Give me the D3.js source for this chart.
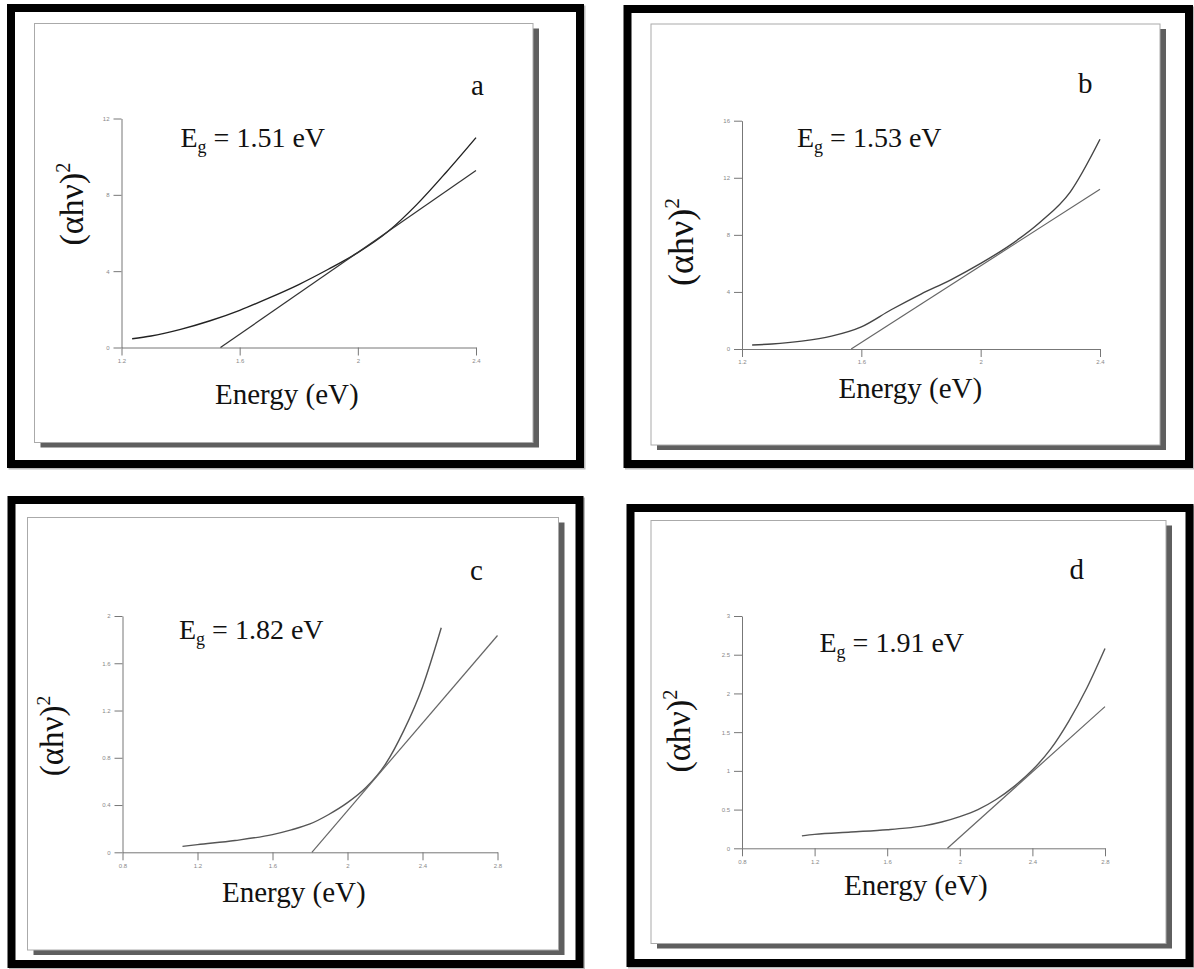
<!DOCTYPE html>
<html lang="en">
<head>
<meta charset="UTF-8">
<title>Tauc plots</title>
<script src="https://d3js.org/d3.v7.min.js"></script>
<style>
  body { margin: 0; background: #fff; }
  svg { display: block; }
  .lbl { font-family: 'Liberation Serif', 'DejaVu Serif', 'Times New Roman', serif; fill: #111; }
  .tick text { font-family: 'Liberation Sans', Arial, sans-serif; font-size: 6px; fill: #888; }
  .tick line, .domain { stroke: #777; }
</style>
</head>
<body>
<svg width="1194" height="969"></svg>
<script>
// ---- data ----
const aEnergy = [1.236, 1.3, 1.4, 1.5, 1.6, 1.7, 1.8, 1.9, 2.0, 2.1, 2.2, 2.3, 2.4];
const aAbs    = [0.46, 0.6, 0.95, 1.4, 1.95, 2.6, 3.3, 4.1, 4.97, 6.05, 7.5, 9.2, 11.0];
const aFitE = [1.535, 2.4], aFitV = [0, 9.27];
const aXTicks = [1.2, 1.6, 2, 2.4], aYTicks = [0, 4, 8, 12];

const bEnergy = [1.234, 1.3, 1.4, 1.5, 1.6, 1.7, 1.8, 1.9, 2.0, 2.1, 2.2, 2.3, 2.4];
const bAbs    = [0.28, 0.35, 0.55, 0.9, 1.55, 2.75, 3.85, 4.85, 6.0, 7.3, 8.9, 11.0, 14.7];
const bFitE = [1.566, 2.4], bFitV = [0, 11.2];
const bXTicks = [1.2, 1.6, 2, 2.4], bYTicks = [0, 4, 8, 12, 16];

const cEnergy = [1.12, 1.2, 1.4, 1.6, 1.7, 1.8, 1.9, 2.0, 2.1, 2.2, 2.3, 2.4, 2.5];
const cAbs    = [0.05, 0.065, 0.1, 0.15, 0.19, 0.24, 0.32, 0.42, 0.55, 0.74, 1.03, 1.4, 1.9];
const cFitE = [1.81, 2.8], cFitV = [0, 1.835];
const cXTicks = [0.8, 1.2, 1.6, 2, 2.4, 2.8], cYTicks = [0, 0.4, 0.8, 1.2, 1.6, 2];

const dEnergy = [1.13, 1.2, 1.4, 1.6, 1.7, 1.8, 1.9, 2.0, 2.1, 2.2, 2.3, 2.4, 2.5, 2.6, 2.7, 2.8];
const dAbs    = [0.16, 0.18, 0.21, 0.24, 0.26, 0.29, 0.34, 0.41, 0.5, 0.63, 0.8, 1.01, 1.28, 1.64, 2.07, 2.58];
const dFitE = [1.932, 2.8], dFitV = [0, 1.83];
const dXTicks = [0.8, 1.2, 1.6, 2, 2.4, 2.8], dYTicks = [0, 0.5, 1, 1.5, 2, 2.5, 3];

const letters = ["a", "b", "c", "d"];
const gaps = ["1.51", "1.53", "1.82", "1.91"];

// ---- layout of each panel (pixel positions) ----
const panels = [
  { E: aEnergy, V: aAbs, fE: aFitE, fV: aFitV, xt: aXTicks, yt: aYTicks,
    frame: [7, 4, 577, 464], box: [34.5, 23.5, 498.5, 419],
    px: [121.5, 476], py: [347.5, 118.5],
    letter: [471, 95], eg: [180.5, 147], en: [215, 404], yl: [83, 204, 34],
    curveColor: "#222", fitColor: "#333" },
  { E: bEnergy, V: bAbs, fE: bFitE, fV: bFitV, xt: bXTicks, yt: bYTicks,
    frame: [623.5, 5, 569.5, 463], box: [651, 24, 509, 421],
    px: [742, 1100], py: [349, 120.7],
    letter: [1078, 93], eg: [797, 147], en: [838.5, 398], yl: [693, 242, 36],
    curveColor: "#444", fitColor: "#666" },
  { E: cEnergy, V: cAbs, fE: cFitE, fV: cFitV, xt: cXTicks, yt: cYTicks,
    frame: [7.5, 496, 576, 472], box: [27.5, 517.5, 531, 432.5],
    px: [122.5, 497.5], py: [852.3, 616],
    letter: [470, 580], eg: [179, 639], en: [222, 901.5], yl: [63, 736, 33],
    curveColor: "#555", fitColor: "#666" },
  { E: dEnergy, V: dAbs, fE: dFitE, fV: dFitV, xt: dXTicks, yt: dYTicks,
    frame: [626.5, 504, 567, 463], box: [651, 520.5, 515, 423],
    px: [742, 1105], py: [848.3, 616],
    letter: [1069.5, 579], eg: [819.5, 651.5], en: [844, 895], yl: [690, 731, 34],
    curveColor: "#555", fitColor: "#666" }
];

const svg = d3.select("svg");

panels.forEach((p, i) => {
  const g = svg.append("g");
  const [fx, fy, fw, fh] = p.frame;
  const bw = 8;

  // thick black frame with a soft edge
  g.append("rect")
    .attr("x", fx + bw / 2 + 1.5).attr("y", fy + bw / 2 + 1.5)
    .attr("width", fw - bw).attr("height", fh - bw)
    .attr("fill", "none").attr("stroke", "#bbb").attr("stroke-width", bw);
  g.append("rect")
    .attr("x", fx + bw / 2).attr("y", fy + bw / 2)
    .attr("width", fw - bw).attr("height", fh - bw)
    .attr("fill", "#fff").attr("stroke", "#000").attr("stroke-width", bw);

  // inner box with dark drop shadow
  const [bx, by, bW, bH] = p.box;
  g.append("rect").attr("x", bx + 6).attr("y", by + 5)
    .attr("width", bW).attr("height", bH).attr("fill", "#5f5f5f");
  g.append("rect").attr("x", bx).attr("y", by)
    .attr("width", bW).attr("height", bH)
    .attr("fill", "#fff").attr("stroke", "#aaa").attr("stroke-width", 1);

  const x = d3.scaleLinear().domain(d3.extent(p.xt)).range(p.px);
  const y = d3.scaleLinear().domain(d3.extent(p.yt)).range(p.py);

  g.append("g")
    .attr("transform", `translate(0,${p.py[0]})`)
    .call(d3.axisBottom(x).tickValues(p.xt).tickFormat(d => String(d))
      .tickSize(8).tickSizeOuter(0).tickPadding(3));
  g.append("g")
    .attr("transform", `translate(${p.px[0]},0)`)
    .call(d3.axisLeft(y).tickValues(p.yt).tickFormat(d => String(d))
      .tickSize(8).tickSizeOuter(0).tickPadding(4));

  const line = d3.line()
    .x(d => x(d[0])).y(d => y(d[1]))
    .curve(d3.curveMonotoneX);

  g.append("path")
    .datum(d3.zip(p.E, p.V))
    .attr("d", line)
    .attr("fill", "none").attr("stroke", p.curveColor).attr("stroke-width", 1.4);

  g.append("path")
    .datum(d3.zip(p.fE, p.fV))
    .attr("d", d3.line().x(d => x(d[0])).y(d => y(d[1])))
    .attr("fill", "none").attr("stroke", p.fitColor).attr("stroke-width", 1.2);

  // panel letter
  g.append("text").attr("class", "lbl")
    .attr("x", p.letter[0]).attr("y", p.letter[1])
    .attr("font-size", 29).text(letters[i]);

  // band gap annotation
  const eg = g.append("text").attr("class", "lbl")
    .attr("x", p.eg[0]).attr("y", p.eg[1]).attr("font-size", 28);
  eg.append("tspan").text("E");
  eg.append("tspan").attr("font-size", 18).attr("dy", 6).text("g");
  eg.append("tspan").attr("dy", -6).text(` = ${gaps[i]} eV`);

  // x label
  g.append("text").attr("class", "lbl")
    .attr("x", p.en[0]).attr("y", p.en[1])
    .attr("font-size", 29).text("Energy (eV)");

  // y label
  const yl = g.append("text").attr("class", "lbl")
    .attr("transform", `translate(${p.yl[0]},${p.yl[1]}) rotate(-90)`)
    .attr("text-anchor", "middle").attr("font-size", p.yl[2]);
  yl.append("tspan").text("(αhν)");
  yl.append("tspan").attr("font-size", p.yl[2] * 0.6).attr("dy", -p.yl[2] * 0.38).text("2");
});
</script>
</body>
</html>
